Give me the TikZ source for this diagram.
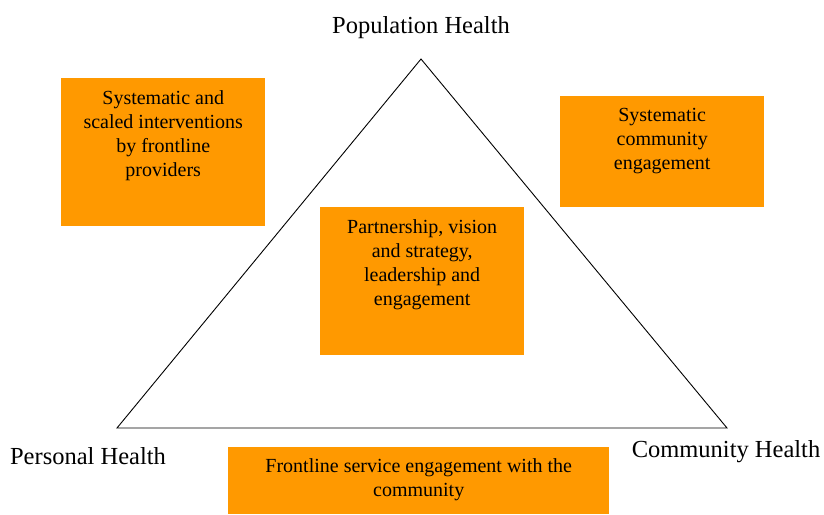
\documentclass[tikz,border=0pt]{standalone}
\usepackage{fontspec}
\setmainfont{Liberation Serif}
\definecolor{boxorange}{RGB}{255,153,0}

\begin{document}
\begin{tikzpicture}[x=1pt,y=1pt]
	\tikzset{
		box/.style = { shape=rectangle, fill=boxorange, draw=none, anchor=north west, inner sep=0 },
		boxtext/.style = { align=center, inner sep=0, anchor=north, font=\fontsize{20}{24}\selectfont },
		corner/.style = { font=\fontsize{24.5}{28}\selectfont, inner sep=0 },
	}
	\useasboundingbox (0,0) rectangle (824,514);
	% triangle
	\coordinate (apex) at (421,455);
	\coordinate (baseleft) at (117,86);
	\coordinate (baseright) at (727,86);
	\draw[line width=0.9pt] (apex) -- (baseleft) -- (baseright) -- cycle;
	% corner labels
	\node[corner] (pop) at (421,486) { Population Health };
	\node[corner] (pers) at (88,58) { Personal Health };
	\node[corner] (comm) at (726,62) { Community Health };
	% boxes
	\node[box, minimum width=204, minimum height=148] (interv) at (61,436) {};
	\node[boxtext] (intervtext) at ([yshift=-12]interv.north) { Systematic and \\ scaled interventions \\ by frontline \\ providers };
	\node[box, minimum width=204, minimum height=148] (partner) at (320,307) {};
	\node[boxtext] (partnertext) at ([yshift=-12]partner.north) { Partnership, vision \\ and strategy, \\ leadership and \\ engagement };
	\node[box, minimum width=204, minimum height=111] (commeng) at (560,418) {};
	\node[boxtext] (commengtext) at ([yshift=-12]commeng.north) { Systematic \\ community \\ engagement };
	\node[box, minimum width=381, minimum height=67] (front) at (228,67) {};
	\node[boxtext] (fronttext) at ([yshift=-11]front.north) { Frontline service engagement with the \\ community };
\end{tikzpicture}
\end{document}
